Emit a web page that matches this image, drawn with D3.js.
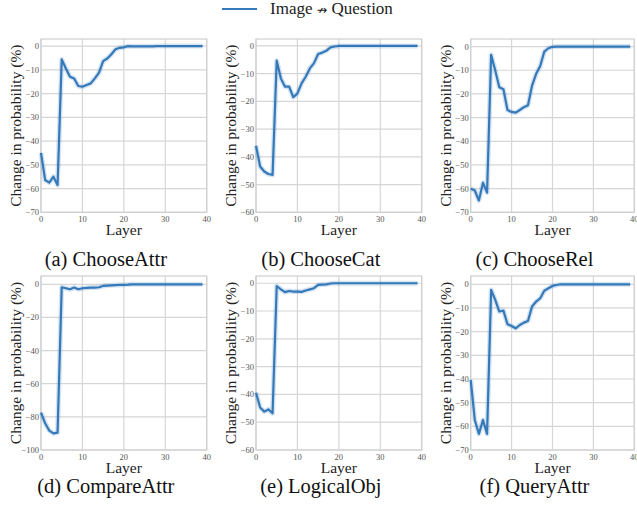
<!DOCTYPE html>
<html><head><meta charset="utf-8">
<script src="https://cdn.jsdelivr.net/npm/d3@7"></script>
<style>
body{margin:0;background:#fff;}
svg{display:block;}
</style></head>
<body><svg id="c" width="637" height="512" font-family="'Liberation Serif', Tinos, 'Times New Roman', Times, serif"></svg>
<script>
const layers = d3.range(0, 40);
const xTicks = [0, 10, 20, 30, 40];
const captions = ["(a) ChooseAttr", "(b) ChooseCat", "(c) ChooseRel", "(d) CompareAttr", "(e) LogicalObj", "(f) QueryAttr"];
const legendParts = ["Image ", "\u219B", " Question"];
const yMins = [-70, -60, -70, -100, -60, -70];
const yTops = [3, 2.5, 3.2, 5, 2.6, 3.5];
const yTickSteps = [10, 10, 10, 20, 10, 10];

const chooseAttr = [-45, -56.4, -57.5, -55, -58.5, -5.6, -9.4, -12.9, -13.6, -16.8, -17.1, -16.4, -15.7, -13.6, -11.2, -6.3, -5.2, -3.4, -1.3, -0.7, -0.5, 0, -0.1, -0.1, -0.1, -0.1, -0.1, -0.1, 0, 0, 0, 0, 0, 0, 0, 0, 0, 0, 0, 0];
const chooseCat = [-36, -43.5, -45.3, -46.2, -46.5, -5.3, -11.7, -14.7, -14.7, -18.5, -17.1, -13.5, -11.1, -8.1, -6.2, -2.9, -2.4, -1.7, -0.5, -0.2, 0, 0, 0, 0, 0, 0, 0, 0, 0, 0, 0, 0, 0, 0, 0, 0, 0, 0, 0, 0];
const chooseRel = [-60, -60.8, -65, -57.5, -61.7, -3.5, -10.1, -17.2, -18, -26.8, -27.6, -27.9, -26.8, -25.6, -24.8, -16.5, -11.5, -8.2, -2.1, -0.7, -0.1, 0, 0, 0, 0, 0, 0, 0, 0, 0, 0, 0, 0, 0, 0, 0, 0, 0, 0, 0];
const compareAttr = [-77.5, -83.9, -88.3, -90, -89.5, -1.8, -2.4, -3, -2, -3, -2.4, -2.2, -2, -2, -1.8, -1, -0.8, -0.6, -0.5, -0.4, -0.3, -0.2, 0, 0, 0, 0, 0, 0, 0, 0, 0, 0, 0, 0, 0, 0, 0, 0, 0, 0];
const logicalObj = [-39.4, -44.7, -46.2, -45.4, -46.8, -1, -2.2, -3.2, -2.8, -3, -3, -3.1, -2.6, -2.2, -1.8, -0.6, -0.5, -0.4, -0.1, 0, 0, 0, 0, 0, 0, 0, 0, 0, 0, 0, 0, 0, 0, 0, 0, 0, 0, 0, 0, 0];
const queryAttr = [-40.4, -57.3, -63.2, -57.3, -63.2, -2.4, -6.6, -11.5, -11.1, -16.9, -17.6, -18.6, -17.2, -16.2, -15.5, -9.4, -7.3, -5.9, -2.7, -1.7, -0.7, -0.3, 0, 0, 0, 0, 0, 0, 0, 0, 0, 0, 0, 0, 0, 0, 0, 0, 0, 0];
const seriesList = [chooseAttr, chooseCat, chooseRel, compareAttr, logicalObj, queryAttr];

const FONT = "'Liberation Serif', Tinos, 'Times New Roman', Times, serif";
const svg = d3.select("#c");
const colLeft = [41, 256, 470.7];
const colRight = [206.7, 421.7, 634.3];
const rowTop = [39, 276];
const rowBottom = [212.3, 450];
const captionY = [265.5, 493];
const lineColor = "#3479ba";
const gridColor = "#d6d6d6";

seriesList.forEach((vals, k) => {
  const c = k % 3, r = Math.floor(k / 3);
  const x = d3.scaleLinear().domain([0, 40]).range([colLeft[c], colRight[c]]);
  const y = d3.scaleLinear().domain([yMins[k], yTops[k]]).range([rowBottom[r], rowTop[r]]);
  const g = svg.append("g").attr("font-family", FONT);
  const yTicks = d3.range(yMins[k], 0.001, yTickSteps[k]);
  g.selectAll(".gy").data(yTicks).join("line")
    .attr("x1", x(0)).attr("x2", x(40)).attr("y1", d => y(d)).attr("y2", d => y(d))
    .attr("stroke", gridColor).attr("stroke-width", 1.2);
  g.selectAll(".gx").data(xTicks).join("line")
    .attr("x1", d => x(d)).attr("x2", d => x(d)).attr("y1", y(yMins[k])).attr("y2", y(yTops[k]))
    .attr("stroke", gridColor).attr("stroke-width", 1.2);
  g.append("rect").attr("x", x(0)).attr("y", y(yTops[k]))
    .attr("width", x(40) - x(0)).attr("height", y(yMins[k]) - y(yTops[k]))
    .attr("fill", "none").attr("stroke", "#cfcfcf").attr("stroke-width", 1.2);
  g.selectAll(".ty").data(yTicks).join("text")
    .attr("font-family", FONT)
    .attr("x", x(0) - 2).attr("y", d => y(d)).attr("dy", "0.35em")
    .attr("text-anchor", "end").attr("font-size", 8.5).attr("fill", "#555")
    .text(d => d3.format("d")(d));
  g.selectAll(".tx").data(xTicks).join("text")
    .attr("font-family", FONT)
    .attr("x", d => x(d)).attr("y", y(yMins[k]) + 9.5)
    .attr("text-anchor", "middle").attr("font-size", 8.5).attr("fill", "#555")
    .text(d => d);
  const line = d3.line().x((d, i) => x(layers[i])).y(d => y(d));
  g.append("path").attr("d", line(vals)).attr("fill", "none")
    .attr("stroke", lineColor).attr("stroke-opacity", 0.2).attr("stroke-width", 5)
    .attr("stroke-linejoin", "round");
  g.append("path").attr("d", line(vals)).attr("fill", "none")
    .attr("stroke", lineColor).attr("stroke-width", 2.2).attr("stroke-linejoin", "round");
  const cx = (x(0) + x(40)) / 2;
  g.append("text").attr("font-family", FONT).attr("x", cx).attr("y", y(yMins[k]) + 23)
    .attr("text-anchor", "middle").attr("font-size", 15.5).attr("fill", "#222").text("Layer");
  const cy = (y(yMins[k]) + y(yTops[k])) / 2;
  g.append("text").attr("font-family", FONT)
    .attr("transform", `translate(${x(0) - 20},${cy}) rotate(-90)`)
    .attr("text-anchor", "middle").attr("font-size", 15.5).attr("fill", "#222")
    .text("Change in probability (%)");
  g.append("text").attr("font-family", FONT).attr("x", cx - 18).attr("y", captionY[r])
    .attr("text-anchor", "middle").attr("font-size", 20.5).attr("fill", "#111").text(captions[k]);
});

// legend
const lg = svg.append("g");
lg.append("line").attr("x1", 222).attr("x2", 257).attr("y1", 9).attr("y2", 9)
  .attr("stroke", lineColor).attr("stroke-width", 2.2);
const lt = lg.append("text").attr("x", 270).attr("y", 14).attr("font-size", 17)
  .attr("fill", "#222").attr("font-family", FONT);
lt.append("tspan").text(legendParts[0]);
lt.append("tspan").attr("font-family", "'DejaVu Sans'").attr("font-size", 12.5).text(legendParts[1]);
lt.append("tspan").text(legendParts[2]);
</script></body></html>
